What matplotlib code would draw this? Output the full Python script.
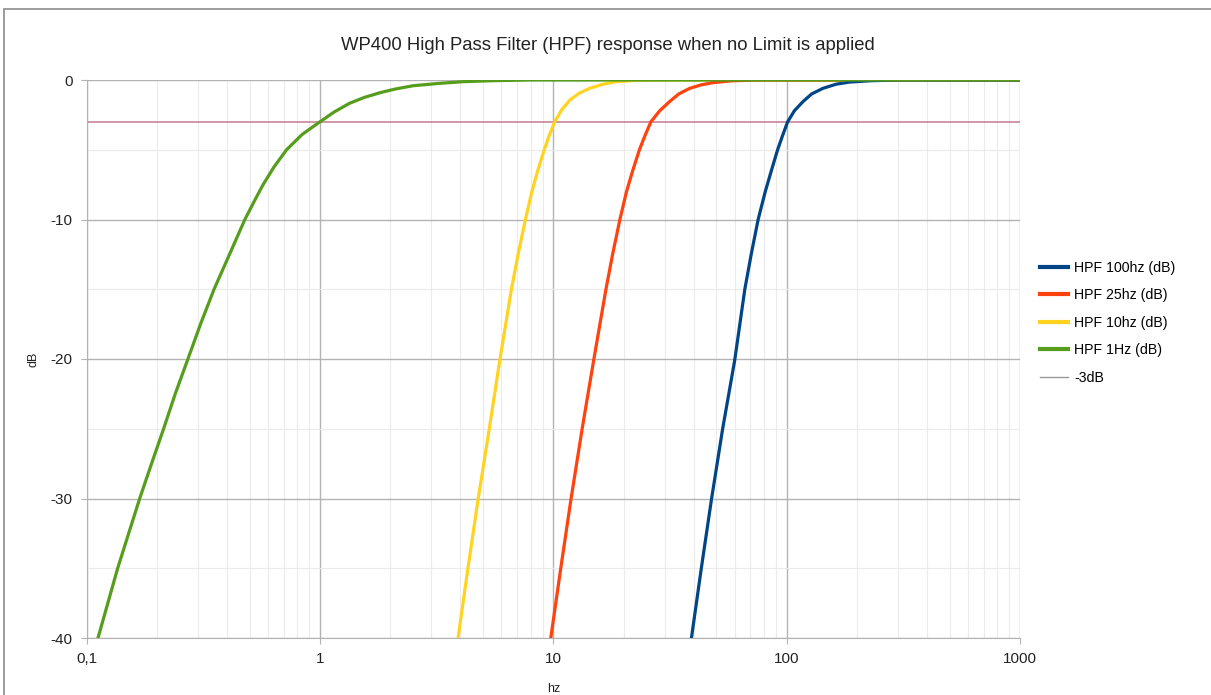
import matplotlib.pyplot as plt
from matplotlib.patches import Rectangle
from matplotlib.ticker import FixedLocator, NullFormatter

# values (frequency in hz, level in dB)
f_100 = [39.1, 43.1, 47.6, 53.2, 59.9, 66.2, 70.5, 75.5, 81.0, 86.0, 91.5, 96.0, 101.0,
         108.0, 117.5, 128.0, 143.0, 163.0, 186.0, 230.0, 305.0, 1000.0]
db_100 = [-40, -35, -30.1, -25, -20.1, -15, -12.5, -10, -8, -6.5, -5, -4, -3.0,
          -2.2, -1.55, -1.0, -0.6, -0.3, -0.15, -0.05, 0, 0]

f_25 = [9.76, 10.77, 11.9, 13.3, 14.9, 16.82, 17.96, 19.3, 20.6, 21.9, 23.4, 24.7, 26.2,
        28.6, 31.5, 34.5, 38.4, 43.0, 48.3, 58.0, 74.0, 1000.0]
db_25 = [-40, -35, -30.1, -25, -20.1, -15, -12.5, -10, -8, -6.5, -5, -4, -3.0,
         -2.2, -1.55, -1.0, -0.6, -0.35, -0.19, -0.06, 0, 0]

f_10 = [3.91, 4.31, 4.76, 5.32, 5.9, 6.62, 7.07, 7.6, 8.1, 8.58, 9.15, 9.6, 10.15,
        10.9, 11.8, 12.9, 14.3, 16.4, 18.6, 22.0, 27.5, 1000.0]
db_10 = [-40, -35, -30.1, -25, -20.1, -15, -12.5, -10, -8, -6.5, -5, -4, -3.0,
         -2.1, -1.43, -0.95, -0.6, -0.3, -0.12, -0.04, 0, 0]

f_1 = [0.112, 0.136, 0.169, 0.19, 0.214, 0.24, 0.272, 0.308, 0.352, 0.41, 0.477, 0.523,
       0.571, 0.638, 0.72, 0.84, 1.0, 1.15, 1.34, 1.55, 1.81, 2.1, 2.51, 3.2, 4.11,
       5.5, 7.9, 1000.0]
db_1 = [-40, -35, -30, -27.5, -25, -22.5, -20, -17.5, -15, -12.5, -10, -8.7,
        -7.5, -6.2, -5.0, -3.9, -3.0, -2.3, -1.67, -1.25, -0.91, -0.65, -0.41, -0.25, -0.12,
        -0.05, 0, 0]

f_ref = [0.1, 1000]
db_ref = [-3, -3]

xticks = [0.1, 1, 10, 100, 1000]
xlabels = ["0,1", "1", "10", "100", "1000"]
yticks = [0, -10, -20, -30, -40]

plt.rcParams['font.family'] = ['Liberation Sans', 'DejaVu Sans']
plt.rcParams['axes.unicode_minus'] = False

fig = plt.figure(figsize=(12.11, 6.95), dpi=100)
ax = fig.add_axes([86.5/1211, 1-638/695, (1020-86.5)/1211, (638-80)/695])

# outer chart border
fig.patches.append(Rectangle((4/1211, -0.02), 1.1, 1-9/695+0.02, transform=fig.transFigure,
                             fill=False, edgecolor='#8c8c8c', lw=1.2))

ax.plot(f_100, db_100, color='#004586', lw=2.3, label='HPF 100hz (dB)', zorder=5)
ax.plot(f_25, db_25, color='#ff420e', lw=2.3, label='HPF 25hz (dB)', zorder=4)
ax.plot(f_10, db_10, color='#ffd320', lw=2.3, label='HPF 10hz (dB)', zorder=3)
ax.plot(f_1, db_1, color='#579d1c', lw=2.3, label='HPF 1Hz (dB)', zorder=6)
ax.plot(f_ref, db_ref, color='#c8849a', lw=1.2, label='-3dB', zorder=2)

ax.set_xscale('log')
ax.set_xlim(0.1, 1000)
ax.set_ylim(-40, 0)
ax.xaxis.set_major_locator(FixedLocator(xticks))
ax.set_xticklabels(xlabels)
ax.xaxis.set_minor_locator(FixedLocator([m * 10.0**e for e in range(-1, 3) for m in range(2, 10)]))
ax.xaxis.set_minor_formatter(NullFormatter())
ax.set_yticks(yticks)
ax.set_yticks([-5, -15, -25, -35], minor=True)

ax.grid(True, which='major', color='#b3b3b3', lw=1)
ax.grid(True, which='minor', color='#ebebeb', lw=0.8)
ax.set_axisbelow(True)

for s in ['top', 'right']:
    ax.spines[s].set_visible(False)
for s in ['left', 'bottom']:
    ax.spines[s].set_color('#b3b3b3')
ax.tick_params(which='major', length=4, color='#b3b3b3', labelsize=11, labelcolor='#222222')
ax.tick_params(axis='x', which='major', pad=6)
ax.tick_params(axis='y', which='major', pad=6)
ax.tick_params(which='minor', length=0)

fig.text(608/1211, 1-45/695, "WP400 High Pass Filter (HPF) response when no Limit is applied",
         fontsize=13.3, color='#222222', ha='center', va='center')
ax.set_xlabel("hz", fontsize=9, color='#222222', labelpad=12)
ax.set_ylabel("dB", fontsize=9, color='#222222', labelpad=8)

leg = fig.legend(loc='upper left', bbox_to_anchor=(1027/1211, 1-248/695), frameon=False,
                 fontsize=10.2, handlelength=2.0, labelspacing=0.95, handletextpad=0.45)
for h in leg.get_lines()[:4]:
    h.set_linewidth(3)
leg.get_lines()[4].set_color('#999999')
leg.get_lines()[4].set_linewidth(1)

fig.savefig("out.png", dpi=100)
